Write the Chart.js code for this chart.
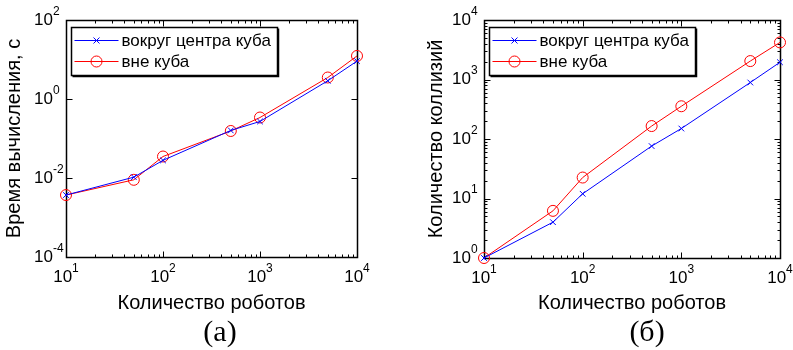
<!DOCTYPE html>
<html>
<head>
<meta charset="utf-8">
<script src="https://cdn.jsdelivr.net/npm/chart.js@4/dist/chart.umd.min.js"></script>
<style>
  html, body { margin: 0; padding: 0; background: #fff; }
  body { width: 793px; height: 350px; overflow: hidden; position: relative; }
  .wrap { position: absolute; top: 0; height: 350px; }
  #wa { left: 0; width: 400px; }
  #wb { left: 400px; width: 393px; }
  .cap { position: absolute; top: 314px; line-height: 34px; font-family: "Liberation Serif", "Times New Roman", serif; font-size: 30px; color: #000; transform: translateX(-50%); white-space: nowrap; }
</style>
</head>
<body>
<div class="wrap" id="wa"><canvas id="ca"></canvas></div>
<div class="wrap" id="wb"><canvas id="cb"></canvas></div>
<div class="cap" id="capA" style="left:220px">(a)</div>
<div class="cap" id="capB" style="left:647px">(б)</div>
<script>
// ---- data ----
const robots = [10, 50, 100, 500, 1000, 5000, 10000];
const seriesNames = ['вокруг центра куба', 'вне куба'];
const timeAroundCenter = [0.0037, 0.0105, 0.028, 0.16, 0.27, 2.9, 9.1];
const timeOutside = [0.0037, 0.009, 0.035, 0.155, 0.34, 3.5, 12.3];
const collAroundCenter = [1, 4, 12, 76, 150, 890, 1950];
const collOutside = [1, 6.2, 22.5, 165, 355, 2040, 4200];
const xTickPowers = [1, 2, 3, 4];
const yTickPowersA = [-4, -2, 0, 2];
const yTickPowersB = [0, 1, 2, 3, 4];
const xTitle = 'Количество роботов';
const yTitleA = 'Время вычисления, с';
const yTitleB = 'Количество коллизий';

const SANS = '"Liberation Sans", Arial, sans-serif';
const BLUE = '#0000ff', RED = '#ff0000';

function pts(xs, ys) { return xs.map((x, i) => ({ x: x, y: ys[i] })); }

// inner tick marks, box, superscript tick labels
const axesPlugin = {
  id: 'matlabAxes',
  beforeDatasetsDraw(chart, args, opts) {
    const { ctx, chartArea: a, scales: { x, y } } = chart;
    ctx.save();
    ctx.strokeStyle = '#000';
    ctx.lineWidth = 1.5;
    const L = Math.round(a.left) + 0.5, R = Math.round(a.right) + 0.5;
    const T = Math.round(a.top) + 0.5, B = Math.round(a.bottom) + 0.5;
    ctx.beginPath();
    ctx.rect(L, T, R - L, B - T);
    ctx.stroke();
    ctx.lineWidth = 1;
    ctx.beginPath();
    const xmin = Math.log10(x.min), xmax = Math.log10(x.max);
    for (let p = Math.floor(xmin); p <= xmax; p++) {
      for (let m = 1; m <= 9; m++) {
        const v = m * Math.pow(10, p);
        if (v < x.min * 0.999 || v > x.max * 1.001) continue;
        const px = Math.round(x.getPixelForValue(v)) + 0.5;
        const len = m === 1 ? 6 : 3;
        ctx.moveTo(px, B); ctx.lineTo(px, B - len);
        ctx.moveTo(px, T); ctx.lineTo(px, T + len);
      }
    }
    const ymin = Math.log10(y.min), ymax = Math.log10(y.max);
    for (let p = Math.floor(ymin); p <= ymax; p++) {
      for (let m = 1; m <= 9; m++) {
        if (m > 1 && !opts.yMinor) continue;
        if (m === 1 && opts.yMajor.indexOf(p) < 0) continue;
        const v = m * Math.pow(10, p);
        if (v < y.min * 0.999 || v > y.max * 1.001) continue;
        const py = Math.round(y.getPixelForValue(v)) + 0.5;
        const len = m === 1 ? 6 : 3;
        ctx.moveTo(L, py); ctx.lineTo(L + len, py);
        ctx.moveTo(R, py); ctx.lineTo(R - len, py);
      }
    }
    ctx.stroke();

    // tick labels 10^n
    ctx.fillStyle = '#000';
    ctx.textBaseline = 'middle';
    const baseFont = '17px ' + SANS, expFont = '12px ' + SANS;
    opts.xPowers.forEach(p => {
      const px = x.getPixelForValue(Math.pow(10, p));
      ctx.font = baseFont; const w1 = ctx.measureText('10').width;
      ctx.font = expFont; const w2 = ctx.measureText(String(p)).width;
      const sx = px - (w1 + w2) / 2;
      const cy = a.bottom + 20;
      ctx.font = baseFont; ctx.textAlign = 'left'; ctx.fillText('10', sx, cy);
      ctx.font = expFont; ctx.fillText(String(p), sx + w1, cy - 8);
    });
    opts.yPowers.forEach(p => {
      const py = y.getPixelForValue(Math.pow(10, p));
      const ex = a.left - 13;
      ctx.font = baseFont; ctx.textAlign = 'right'; ctx.fillText('10', ex, py);
      ctx.font = expFont; ctx.textAlign = 'left'; ctx.fillText(String(p), ex, py - 8.5);
    });
    ctx.restore();
  },
  afterDraw(chart) {
    // legend box
    const { ctx, chartArea: a } = chart;
    const bx = Math.round(a.left) + 5.5, by = Math.round(a.top) + 7.5, bw = 206, bh = 48;
    ctx.save();
    ctx.fillStyle = '#fff';
    ctx.fillRect(bx, by, bw, bh);
    ctx.strokeStyle = '#000';
    ctx.lineWidth = 1.5;
    ctx.strokeRect(bx, by, bw, bh);
    ctx.beginPath();
    ctx.moveTo(bx + bw + 1, by + 1); ctx.lineTo(bx + bw + 1, by + bh + 1); ctx.lineTo(bx + 1, by + bh + 1);
    ctx.stroke();
    chart.data.datasets.forEach((ds, i) => {
      const ly = by + 13 + i * 21;
      const x0 = bx + 3, x1 = bx + 47, xm = (x0 + x1) / 2;
      ctx.strokeStyle = ds.borderColor;
      ctx.lineWidth = 1;
      ctx.beginPath(); ctx.moveTo(x0, ly); ctx.lineTo(x1, ly); ctx.stroke();
      ctx.beginPath();
      if (ds.pointStyle === 'crossRot') {
        const r = ds.pointRadius * 0.75;
        ctx.moveTo(xm - r, ly - r); ctx.lineTo(xm + r, ly + r);
        ctx.moveTo(xm - r, ly + r); ctx.lineTo(xm + r, ly - r);
      } else {
        ctx.arc(xm, ly, ds.pointRadius, 0, Math.PI * 2);
      }
      ctx.stroke();
      ctx.fillStyle = '#000';
      ctx.font = '17px ' + SANS;
      ctx.textAlign = 'left';
      ctx.textBaseline = 'middle';
      ctx.fillText(ds.label, x1 + 3, ly + 1);
    });
    ctx.restore();
  }
};

function makeChart(id, dsA, dsB, yMin, yMax, yTitle, cfg) {
  const mk = (label, data, color, style, radius) => ({
    label: label, data: data, borderColor: color, backgroundColor: 'rgba(0,0,0,0)',
    borderWidth: 1, pointStyle: style, pointRadius: radius, pointBorderWidth: 1,
    pointBorderColor: color, pointBackgroundColor: 'rgba(0,0,0,0)',
    tension: 0, clip: false, fill: false
  });
  return new Chart(document.getElementById(id), {
    type: 'line',
    data: {
      datasets: [
        mk(seriesNames[0], pts(robots, dsA), BLUE, 'crossRot', 4),
        mk(seriesNames[1], pts(robots, dsB), RED, 'circle', 5.5)
      ]
    },
    options: {
      responsive: true, maintainAspectRatio: false, animation: false, devicePixelRatio: 1,
      layout: { padding: { left: cfg.padL, right: cfg.padR, top: cfg.padT, bottom: 0 } },
      plugins: { legend: { display: false }, tooltip: { enabled: false },
        matlabAxes: { xPowers: xTickPowers, yPowers: cfg.yPowers, yMajor: cfg.yPowers, yMinor: cfg.yMinor } },
      scales: {
        x: {
          type: 'logarithmic', min: 10, max: 10000,
          grid: { display: false }, border: { display: false }, ticks: { display: false },
          title: { display: true, text: xTitle, color: '#000', font: { family: SANS, size: 20 }, padding: { top: 0, bottom: cfg.xTitlePadB } },
          afterFit: s => { s.height = cfg.xH; }
        },
        y: {
          type: 'logarithmic', min: yMin, max: yMax,
          grid: { display: false }, border: { display: false }, ticks: { display: false },
          title: { display: true, text: yTitle, color: '#000', font: { family: SANS, size: 20 }, padding: { top: cfg.yTitlePadT, bottom: 0 } },
          afterFit: s => { s.width = cfg.yW; }
        }
      }
    },
    plugins: [axesPlugin]
  });
}

makeChart('ca', timeAroundCenter, timeOutside, 1e-4, 1e2, yTitleA,
  { padL: 0, padR: 43, padT: 20, xH: 93, yW: 66, xTitlePadB: 35, yTitlePadT: 2, yPowers: yTickPowersA, yMinor: false });
makeChart('cb', collAroundCenter, collOutside, 1, 1e4, yTitleB,
  { padL: 0, padR: 13, padT: 20, xH: 92, yW: 84, xTitlePadB: 35, yTitlePadT: 24, yPowers: yTickPowersB, yMinor: true });
</script>
</body>
</html>
